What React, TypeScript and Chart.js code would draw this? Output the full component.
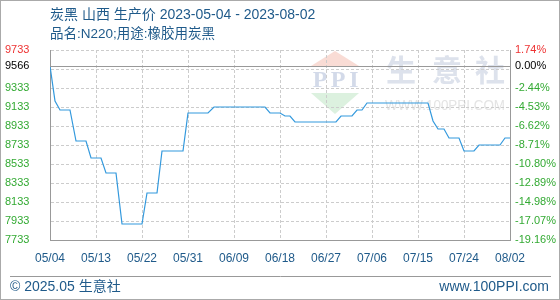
import React, { useEffect, useRef } from 'react';
import { Chart, registerables } from 'chart.js';

Chart.register(...registerables);

const title = '炭黑 山西 生产价 2023-05-04 - 2023-08-02';
const subtitle = '品名:N220;用途:橡胶用炭黑';
const footerLeft = '© 2025.05 生意社';
const footerRight = 'www.100PPI.com';

const dates = [
  '2023-05-04', '2023-05-05', '2023-05-06', '2023-05-08', '2023-05-09', '2023-05-11',
  '2023-05-12', '2023-05-14', '2023-05-15', '2023-05-17', '2023-05-18', '2023-05-22',
  '2023-05-23', '2023-05-25', '2023-05-26', '2023-05-30', '2023-05-31', '2023-06-04',
  '2023-06-05', '2023-06-15', '2023-06-16', '2023-06-18', '2023-06-19', '2023-06-20',
  '2023-06-21', '2023-06-29', '2023-06-30', '2023-07-02', '2023-07-03', '2023-07-04',
  '2023-07-05', '2023-07-17', '2023-07-18', '2023-07-19', '2023-07-20', '2023-07-21',
  '2023-07-23', '2023-07-24', '2023-07-26', '2023-07-27', '2023-07-31', '2023-08-01',
  '2023-08-02',
];
const prices = [
  9566, 9200, 9100, 9100, 8780, 8780,
  8600, 8600, 8440, 8440, 7900, 7900,
  8233, 8233, 8670, 8670, 9070, 9070,
  9133, 9133, 9066, 9066, 9042, 9042,
  8972, 8972, 9042, 9042, 9100, 9100,
  9172, 9172, 8990, 8900, 8900, 8810,
  8810, 8670, 8670, 8733, 8733, 8810,
  8810,
];

const xTickDates = [
  '2023-05-04', '2023-05-13', '2023-05-22', '2023-05-31', '2023-06-09', '2023-06-18',
  '2023-06-27', '2023-07-06', '2023-07-15', '2023-07-24', '2023-08-02',
];
const xTickLabels = ['05/04', '05/13', '05/22', '05/31', '06/09', '06/18', '06/27', '07/06', '07/15', '07/24', '08/02'];

const baseValue = 9566;
const yTickValues = [9733, 9566, 9533, 9333, 9133, 8933, 8733, 8533, 8333, 8133, 7933, 7733];
const yTickLabels = ['9733', '9566', '', '9333', '9133', '8933', '8733', '8533', '8333', '8133', '7933', '7733'];
const yPctLabels = ['1.74%', '0.00%', '', '-2.44%', '-4.53%', '-6.62%', '-8.71%', '-10.80%', '-12.89%', '-14.98%', '-17.07%', '-19.16%'];

const DAY = 86400000;
const t0 = Date.parse(dates[0]);
const dayOf = (d: string) => Math.round((Date.parse(d) - t0) / DAY);

const RED = '#ee3333';
const GREEN = '#33aa33';
const BLUE_TEXT = '#1f5a8a';
const GRID = '#cccccc';
const AXIS = '#999999';

const labelColor = (v: number) => (v === yTickValues[0] ? RED : v === baseValue ? '#000000' : GREEN);

const decorPlugin = {
  id: 'decor',
  beforeDraw(chart: any) {
    const c = chart.ctx as CanvasRenderingContext2D;
    c.save();
    c.fillStyle = '#ffffff';
    c.fillRect(0, 0, chart.width, chart.height);
    // watermark logo
    c.fillStyle = '#f9dcd5';
    c.beginPath();
    c.moveTo(335, 51); c.lineTo(359, 66); c.lineTo(311, 66); c.closePath(); c.fill();
    c.fillStyle = '#dcf1df';
    c.beginPath();
    c.moveTo(311, 93); c.lineTo(359, 93); c.lineTo(335, 114); c.closePath(); c.fill();
    c.fillStyle = '#d3dae9';
    c.font = 'bold 24px "Liberation Serif"';
    c.textAlign = 'center';
    c.textBaseline = 'middle';
    c.fillText('P', 320, 81);
    c.fillText('P', 338, 81);
    c.fillText('I', 354, 81);
    c.fillStyle = '#dde2ec';
    c.font = 'bold 30px "Noto Sans CJK SC"';
    c.fillText('生', 401, 70);
    c.fillText('意', 447, 70);
    c.fillText('社', 490, 70);
    c.fillStyle = '#e4e4e4';
    c.font = '15px "Liberation Sans"';
    c.fillText('WWW.100PPI.COM', 445, 106, 120);
    c.restore();
  },
  afterDraw(chart: any) {
    const c = chart.ctx as CanvasRenderingContext2D;
    const area = chart.chartArea;
    c.save();
    // baseline at start value
    const yb = Math.round(chart.scales.y.getPixelForValue(baseValue)) + 0.5;
    c.strokeStyle = AXIS;
    c.lineWidth = 1;
    c.beginPath();
    c.moveTo(area.left, yb); c.lineTo(area.right, yb); c.stroke();
    // titles
    c.fillStyle = BLUE_TEXT;
    c.textAlign = 'left';
    c.textBaseline = 'middle';
    c.font = '14px "Liberation Sans", "Noto Sans CJK SC"';
    c.fillText(title, 50, 15);
    c.font = '13.5px "Liberation Sans", "Noto Sans CJK SC"';
    c.fillText(subtitle, 50, 34);
    // footer
    c.strokeStyle = AXIS;
    c.beginPath();
    c.moveTo(10, 276.5); c.lineTo(551, 276.5); c.stroke();
    c.font = '14px "Liberation Sans", "Noto Sans CJK SC"';
    c.fillText(footerLeft, 10, 287);
    c.textAlign = 'right';
    c.fillText(footerRight, 549, 287);
    // frame
    c.strokeStyle = '#aaaaaa';
    c.strokeRect(0.5, 0.5, chart.width - 1, chart.height - 1);
    c.restore();
  },
};

export default function App() {
  const ref = useRef<HTMLCanvasElement | null>(null);
  useEffect(() => {
    if (!ref.current) return;
    const chart = new Chart(ref.current, {
      type: 'line',
      data: {
        datasets: [
          {
            data: dates.map((d, i) => ({ x: dayOf(d), y: prices[i] })),
            borderColor: '#3399dd',
            borderWidth: 1.2,
            pointRadius: 0,
            tension: 0,
            fill: false,
          },
        ],
      },
      options: {
        responsive: false,
        animation: false,
        events: [],
        layout: { padding: { left: 5, right: 0, top: 50, bottom: 0 } },
        plugins: { legend: { display: false }, tooltip: { enabled: false }, title: { display: false } },
        scales: {
          x: {
            type: 'linear',
            min: 0,
            max: dayOf(xTickDates[xTickDates.length - 1]),
            alignToPixels: true,
            afterBuildTicks: (s: any) => {
              s.ticks = xTickDates.map((d) => ({ value: dayOf(d) }));
            },
            afterFit: (s: any) => {
              s.height = 60;
            },
            grid: { color: GRID, lineWidth: 1, drawTicks: false },
            border: { color: AXIS, width: 1, dash: [3, 2] },
            ticks: {
              autoSkip: false,
              maxRotation: 0,
              padding: 11,
              color: BLUE_TEXT,
              font: { family: '"Liberation Sans"', size: 12 },
              callback: (v: any) => xTickLabels[xTickDates.findIndex((d) => dayOf(d) === v)],
            },
          },
          y: {
            type: 'linear',
            position: 'left',
            min: yTickValues[yTickValues.length - 1],
            max: yTickValues[0],
            alignToPixels: true,
            afterBuildTicks: (s: any) => {
              s.ticks = yTickValues.map((v) => ({ value: v }));
            },
            afterFit: (s: any) => {
              s.width = 45;
            },
            grid: { color: GRID, lineWidth: 1, drawTicks: false },
            border: { color: AXIS, width: 1, dash: [3, 2] },
            ticks: {
              autoSkip: false,
              crossAlign: 'far',
              padding: 0,
              color: (ctx: any) => labelColor(ctx.tick?.value),
              font: { family: '"Liberation Sans"', size: 11 },
              callback: (v: any) => yTickLabels[yTickValues.indexOf(v)],
            },
          },
          y2: {
            type: 'linear',
            position: 'right',
            min: yTickValues[yTickValues.length - 1],
            max: yTickValues[0],
            alignToPixels: true,
            afterBuildTicks: (s: any) => {
              s.ticks = yTickValues.map((v) => ({ value: v }));
            },
            afterFit: (s: any) => {
              s.width = 50;
            },
            grid: { drawOnChartArea: false, drawTicks: false },
            border: { color: AXIS, width: 1 },
            ticks: {
              autoSkip: false,
              crossAlign: 'near',
              padding: 5,
              color: (ctx: any) => labelColor(ctx.tick?.value),
              font: { family: '"Liberation Sans"', size: 11 },
              callback: (v: any) => yPctLabels[yTickValues.indexOf(v)],
            },
          },
        },
      },
      plugins: [decorPlugin],
    } as any);
    return () => chart.destroy();
  }, []);
  return (
    <div style={{ position: 'absolute', left: 0, top: 0, width: 560, height: 300 }}>
      <canvas ref={ref} width={560} height={300} />
    </div>
  );
}
